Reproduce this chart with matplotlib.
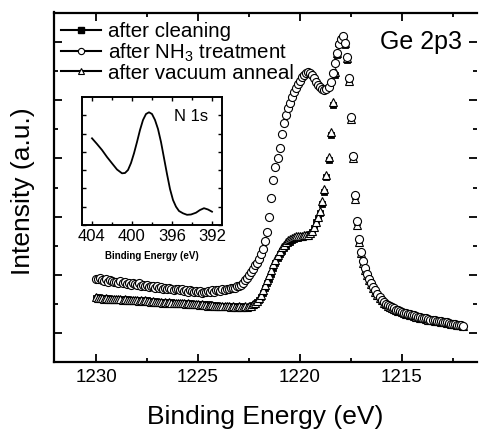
import numpy as np
import matplotlib
matplotlib.use("Agg")
import matplotlib.pyplot as plt
from matplotlib.lines import Line2D
from matplotlib.ticker import MultipleLocator

plt.rcParams['font.family'] = ['Liberation Sans', 'DejaVu Sans']
plt.rcParams['mathtext.fontset'] = 'custom'
plt.rcParams['mathtext.rm'] = 'Liberation Sans'
plt.rcParams['mathtext.it'] = 'Liberation Sans'

# ---------------- data ----------------
energy = np.round(np.arange(1230.0, 1211.95, -0.1), 1)   # eV, 1230.0 ... 1212.0

cleaning = [
    0.60, 0.61, 0.60, 0.59, 0.60, 0.59, 0.60, 0.58, 0.59, 0.58,
    0.58, 0.59, 0.57, 0.58, 0.57, 0.58, 0.57, 0.56, 0.57, 0.56,
    0.56, 0.57, 0.55, 0.56, 0.55, 0.56, 0.54, 0.55, 0.54, 0.55,
    0.54, 0.53, 0.54, 0.53, 0.52, 0.53, 0.52, 0.53, 0.51, 0.52,
    0.52, 0.51, 0.52, 0.50, 0.51, 0.50, 0.51, 0.49, 0.50, 0.49,
    0.49, 0.50, 0.48, 0.49, 0.48, 0.49, 0.47, 0.48, 0.47, 0.48,
    0.47, 0.46, 0.47, 0.46, 0.47, 0.45, 0.46, 0.45, 0.46, 0.45,
    0.45, 0.46, 0.45, 0.45, 0.44, 0.45, 0.46, 0.48, 0.50, 0.53,
    0.57, 0.62, 0.69, 0.77, 0.85, 0.93, 1.02, 1.11, 1.20, 1.28,
    1.35, 1.41, 1.46, 1.50, 1.54, 1.57, 1.60, 1.62, 1.63, 1.64,
    1.65, 1.65, 1.66, 1.67, 1.68, 1.70, 1.74, 1.81, 1.90, 1.98,
    2.07, 2.22, 2.43, 2.68, 2.97, 3.40, 3.92, 4.43, 4.78, 4.97,
    5.05, 5.08, 4.95, 4.70, 4.35, 3.70, 3.05, 2.35, 1.90, 1.58,
    1.38, 1.22, 1.10, 1.00, 0.92, 0.85, 0.78, 0.71, 0.65, 0.60,
    0.55, 0.52, 0.49, 0.47, 0.45, 0.43, 0.41, 0.39, 0.38, 0.37,
    0.35, 0.34, 0.33, 0.32, 0.31, 0.30, 0.29, 0.28, 0.27, 0.26,
    0.25, 0.24, 0.24, 0.23, 0.22, 0.22, 0.21, 0.20, 0.20, 0.19,
    0.18, 0.18, 0.17, 0.16, 0.16, 0.15, 0.14, 0.14, 0.13, 0.12,
    0.11,
]

nh3 = [
    0.93, 0.92, 0.94, 0.91, 0.90, 0.92, 0.88, 0.91, 0.89, 0.87,
    0.88, 0.86, 0.89, 0.85, 0.87, 0.84, 0.86, 0.83, 0.85, 0.84,
    0.82, 0.85, 0.81, 0.83, 0.80, 0.82, 0.79, 0.81, 0.80, 0.78,
    0.80, 0.77, 0.79, 0.76, 0.78, 0.75, 0.77, 0.76, 0.74, 0.76,
    0.75, 0.73, 0.76, 0.72, 0.74, 0.71, 0.73, 0.72, 0.70, 0.72,
    0.70, 0.72, 0.69, 0.71, 0.70, 0.72, 0.70, 0.73, 0.71, 0.73,
    0.74, 0.72, 0.75, 0.74, 0.76, 0.75, 0.77, 0.78, 0.77, 0.80,
    0.81, 0.83, 0.86, 0.91, 0.95, 1.00, 1.05, 1.10, 1.16, 1.21,
    1.27, 1.35, 1.45, 1.58, 1.74, 2.00, 2.32, 2.63, 2.85, 3.00,
    3.18, 3.42, 3.61, 3.75, 3.87, 3.95, 4.05, 4.14, 4.22, 4.28,
    4.34, 4.40, 4.44, 4.47, 4.48, 4.47, 4.43, 4.38, 4.32, 4.27,
    4.23, 4.20, 4.18, 4.19, 4.23, 4.32, 4.47, 4.64, 4.82, 4.97,
    5.06, 5.10, 4.98, 4.74, 4.38, 3.72, 3.05, 2.38, 1.92, 1.62,
    1.40, 1.24, 1.11, 1.01, 0.93, 0.86, 0.79, 0.73, 0.67, 0.62,
    0.57, 0.53, 0.50, 0.48, 0.46, 0.44, 0.42, 0.40, 0.39, 0.37,
    0.36, 0.35, 0.34, 0.33, 0.32, 0.31, 0.30, 0.29, 0.28, 0.27,
    0.26, 0.25, 0.25, 0.24, 0.23, 0.22, 0.22, 0.21, 0.20, 0.20,
    0.19, 0.18, 0.18, 0.17, 0.16, 0.16, 0.15, 0.14, 0.14, 0.13,
    0.12,
]

anneal = [
    0.61, 0.60, 0.60, 0.60, 0.59, 0.60, 0.59, 0.59, 0.58, 0.59,
    0.58, 0.58, 0.58, 0.57, 0.58, 0.57, 0.56, 0.57, 0.56, 0.57,
    0.56, 0.55, 0.56, 0.55, 0.56, 0.55, 0.55, 0.54, 0.55, 0.54,
    0.54, 0.54, 0.53, 0.52, 0.53, 0.52, 0.53, 0.52, 0.52, 0.51,
    0.51, 0.52, 0.51, 0.51, 0.50, 0.51, 0.50, 0.50, 0.49, 0.50,
    0.49, 0.48, 0.49, 0.48, 0.48, 0.47, 0.48, 0.48, 0.47, 0.47,
    0.47, 0.47, 0.46, 0.46, 0.46, 0.46, 0.45, 0.46, 0.45, 0.45,
    0.46, 0.45, 0.45, 0.46, 0.45, 0.46, 0.47, 0.49, 0.52, 0.55,
    0.60, 0.66, 0.74, 0.82, 0.91, 1.00, 1.09, 1.18, 1.26, 1.34,
    1.41, 1.47, 1.52, 1.56, 1.59, 1.62, 1.64, 1.65, 1.66, 1.66,
    1.67, 1.67, 1.68, 1.68, 1.69, 1.71, 1.75, 1.82, 1.90, 1.99,
    2.10, 2.26, 2.47, 2.72, 3.02, 3.45, 3.97, 4.48, 4.82, 5.00,
    5.08, 5.10, 4.98, 4.72, 4.33, 3.68, 3.00, 2.30, 1.86, 1.56,
    1.37, 1.21, 1.09, 0.99, 0.91, 0.84, 0.77, 0.71, 0.65, 0.60,
    0.56, 0.52, 0.50, 0.47, 0.45, 0.43, 0.41, 0.40, 0.38, 0.37,
    0.36, 0.34, 0.33, 0.32, 0.31, 0.30, 0.29, 0.28, 0.27, 0.26,
    0.25, 0.25, 0.24, 0.23, 0.23, 0.22, 0.21, 0.21, 0.20, 0.19,
    0.19, 0.18, 0.17, 0.17, 0.16, 0.15, 0.15, 0.14, 0.13, 0.13,
    0.12,
]

series_labels = ["after cleaning", "after NH$_3$ treatment", "after vacuum anneal"]
x_ticks = [1230, 1225, 1220, 1215]

# inset: N 1s
n1s_energy = [404.0, 403.5, 403.0, 402.5, 402.0, 401.5, 401.0, 400.7, 400.4, 400.1,
              399.8, 399.5, 399.2, 398.9, 398.6, 398.3, 398.0, 397.7, 397.4, 397.1,
              396.8, 396.5, 396.2, 395.9, 395.6, 395.3, 394.9, 394.5, 394.1, 393.6,
              393.2, 392.8, 392.4, 392.0]
n1s_intensity = [86.7, 81.0, 75.0, 68.0, 61.7, 55.5, 51.7, 52.0, 55.0, 62.0,
                 71.7, 83.0, 95.0, 105.0, 111.0, 112.7, 111.0, 105.0, 96.0, 83.0,
                 67.0, 51.0, 36.0, 25.0, 18.3, 14.0, 11.7, 10.2, 10.5, 12.3,
                 15.0, 16.8, 15.5, 13.3]
inset_ticks = [404, 400, 396, 392]

# ---------------- figure ----------------
fig = plt.figure(figsize=(4.79, 4.32), dpi=100)
ax = fig.add_axes([54/479, 1-362/432, (477-54)/479, (362-12.5)/432])

ax.plot(energy, cleaning, ls='none', marker='s', ms=3.8, mfc='black', mec='black', mew=0.6, zorder=3)
ax.plot(energy, anneal, ls='none', marker='^', ms=6.2, mfc='white', mec='black', mew=0.8, zorder=4)
ax.plot(energy, nh3, ls='none', marker='o', ms=5.8, mfc='white', mec='black', mew=0.8, zorder=5)

ax.set_xlim(1232.06, 1211.32)
ax.set_ylim(-0.5, 5.51)
ax.set_xticks(x_ticks)
ax.xaxis.set_minor_locator(MultipleLocator(2.5))
ax.yaxis.set_major_locator(MultipleLocator(1))
ax.yaxis.set_minor_locator(MultipleLocator(0.5))
ax.tick_params(which='both', direction='in', top=True, right=True, width=1.3)
ax.tick_params(which='major', length=6, labelsize=13.5, pad=5)
ax.tick_params(which='minor', length=3)
ax.tick_params(axis='y', which='both', labelleft=False)
for side in ['left', 'bottom', 'top']:
    ax.spines[side].set_linewidth(1.6)
ax.spines['right'].set_visible(False)

ax.set_xlabel("Binding Energy (eV)", fontsize=19, labelpad=14)
ax.set_ylabel("Intensity (a.u.)", fontsize=19)
ax.yaxis.set_label_coords(-0.045, 0.49)

ax.text(0.771, 0.916, "Ge 2p3", transform=ax.transAxes, fontsize=18, ha='left', va='center')

handles = [
    Line2D([], [], color='black', lw=1.5, marker='s', ms=4, mfc='black', mec='black'),
    Line2D([], [], color='black', lw=1.5, marker='o', ms=4.5, mfc='white', mec='black', mew=0.8),
    Line2D([], [], color='black', lw=1.5, marker='^', ms=5, mfc='white', mec='black', mew=0.8),
]
ax.legend(handles, series_labels, loc='upper left', bbox_to_anchor=(0.017, 0.972),
          frameon=False, fontsize=14.8, handlelength=1.95, handletextpad=0.35,
          labelspacing=0.0, borderpad=0, borderaxespad=0)

# inset
axi = fig.add_axes([82/479, 1-225/432, (222-82)/479, (225-97)/432])
axi.plot(n1s_energy, n1s_intensity, color='black', lw=1.3)
axi.set_xlim(405.0, 391.0)
axi.set_ylim(0, 128)
axi.set_xticks(inset_ticks)
axi.xaxis.set_minor_locator(MultipleLocator(2))
axi.yaxis.set_major_locator(MultipleLocator(18.3))
axi.tick_params(which='both', direction='in', top=True, right=True, width=1.0)
axi.tick_params(which='major', length=3, labelsize=12, pad=3)
axi.tick_params(which='minor', length=2)
axi.tick_params(axis='y', which='both', labelleft=False)
for s in axi.spines.values():
    s.set_linewidth(1.4)
axi.set_xlabel("Binding Energy (eV)", fontsize=7, fontweight='bold', labelpad=5)
axi.text(0.78, 0.845, "N 1s", transform=axi.transAxes, fontsize=12, ha='center', va='center')

fig.savefig("out.png", dpi=100)
